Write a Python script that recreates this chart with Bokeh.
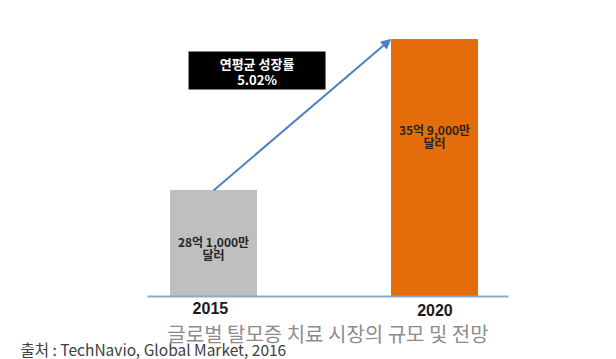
from bokeh.plotting import figure
from bokeh.models import Range1d, Label, Arrow, NormalHead, ColumnDataSource, BoxAnnotation
from bokeh.embed import file_html
from bokeh.resources import INLINE

# data
years = ["2015", "2020"]
values = [28.1, 35.9]  # 억 달러
value_line1 = ["28억 1,000만", "35억 9,000만"]
value_line2 = ["달러", "달러"]
bar_colors = ["#BFBFBF", "#E46C0A"]
cagr_line1 = "연평균 성장률"
cagr_line2 = "5.02%"
title_text = "글로벌 탈모증 치료 시장의 규모 및 전망"
source_text = "출처 : TechNavio, Global Market, 2016"

baseline = 22.62
KR = "Noto Sans CJK KR"

p = figure(width=616, height=359, output_backend="svg", toolbar_location=None,
           x_range=Range1d(-0.9638, 1.8235), y_range=Range1d(19.36, 37.92),
           min_border=0)
p.axis.visible = False
p.grid.visible = False
p.outline_line_color = None
p.border_fill_color = "white"

xs = list(range(len(years)))
src = ColumnDataSource(dict(x=xs, top=values, color=bar_colors))
p.vbar(x="x", top="top", bottom=baseline, width=0.389, color="color", source=src)

# baseline axis line
p.line(x=[-0.299, 1.335], y=[baseline, baseline], line_color="#8EA9CC", line_width=2)

# arrow
p.add_layout(Arrow(end=NormalHead(size=9, fill_color="#4F81BD", line_color="#4F81BD"),
                   x_start=xs[0], y_start=values[0], x_end=xs[1] - 0.199, y_end=values[1],
                   line_color="#4F81BD", line_width=2))

# CAGR box
p.add_layout(BoxAnnotation(left=-0.113, right=0.507, bottom=33.32, top=35.28,
                           fill_color="black", fill_alpha=1.0,
                           line_color="#888888", line_width=1, level="overlay"))
for ly, t in zip([34.66, 33.84], [cagr_line1, cagr_line2]):
    p.add_layout(Label(x=0.197, y=ly, text=t, text_align="center",
                       text_baseline="middle", text_color="white", text_font=KR,
                       text_font_style="bold", text_font_size="13px", level="overlay"))

# value labels inside bars
line1_y = [25.47, 31.26]
line2_y = [24.80, 30.59]
for x, y1, y2, t1, t2 in zip(xs, line1_y, line2_y, value_line1, value_line2):
    for yy, t in ((y1, t1), (y2, t2)):
        p.add_layout(Label(x=x, y=yy, text=t, text_align="center", text_baseline="middle",
                           text_color="#262626", text_font=KR, text_font_style="bold",
                           text_font_size="12px"))

# year labels
year_y = [22.00, 21.90]
year_dx = [-0.014, 0.002]
for x, yy, dx, t in zip(xs, year_y, year_dx, years):
    p.add_layout(Label(x=x + dx, y=yy, text=t, text_align="center", text_baseline="middle",
                       text_color="#1a1a1a", text_font="Liberation Sans",
                       text_font_style="bold", text_font_size="16px"))

# title
p.add_layout(Label(x=0.518, y=20.71, text=title_text, text_align="center",
                   text_baseline="middle", text_color="#8C8C8C", text_font=KR,
                   text_font_size="20px"))
# source
p.add_layout(Label(x=-0.873, y=19.88, text=source_text, text_align="left",
                   text_baseline="middle", text_color="#404040", text_font=KR,
                   text_font_size="15.5px"))

open("out.html", "w").write(file_html(p, INLINE))
